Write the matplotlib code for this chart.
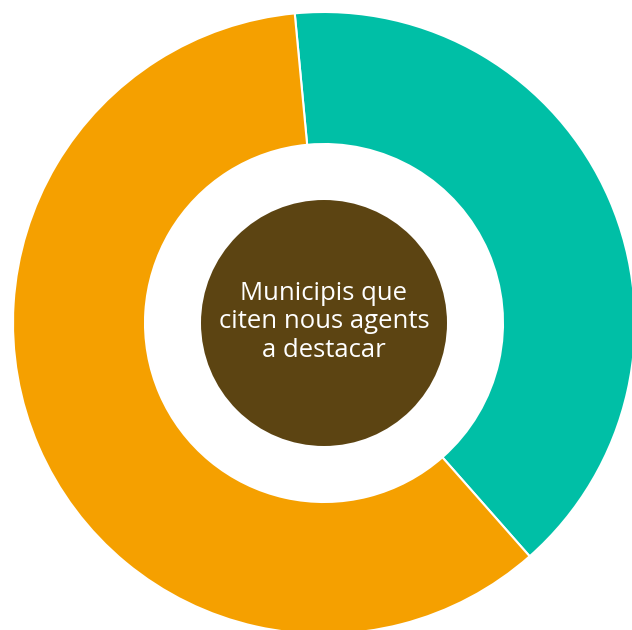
import matplotlib.pyplot as plt
from matplotlib.patches import Circle

labels = ["Sí", "No"]
values = [40, 60]
colors = ["#00BFA6", "#F5A000"]
center_text = "Municipis que\nciten nous agents\na destacar"

W, H = 632, 630
fig = plt.figure(figsize=(W / 100, H / 100), dpi=100)
ax = fig.add_axes([0, 0, 1, 1])

cx, cy = 324, H - 323
R = 311
r_in = 179

ax.pie(values, colors=colors, startangle=95.4, counterclock=False,
       center=(cx, cy), radius=R,
       wedgeprops=dict(width=R - r_in, edgecolor="white", linewidth=1.5))
ax.add_patch(Circle((cx, cy), 123, facecolor="#5C4412", edgecolor="none"))
ax.text(cx, cy + 1, center_text, ha="center", va="center", color="white",
        fontsize=18.5, family=["Open Sans", "DejaVu Sans"], linespacing=1.2)

ax.set_xlim(0, W)
ax.set_ylim(0, H)
ax.set_aspect("equal")
ax.set_axis_off()
fig.savefig("out.png", dpi=100, facecolor="white")
